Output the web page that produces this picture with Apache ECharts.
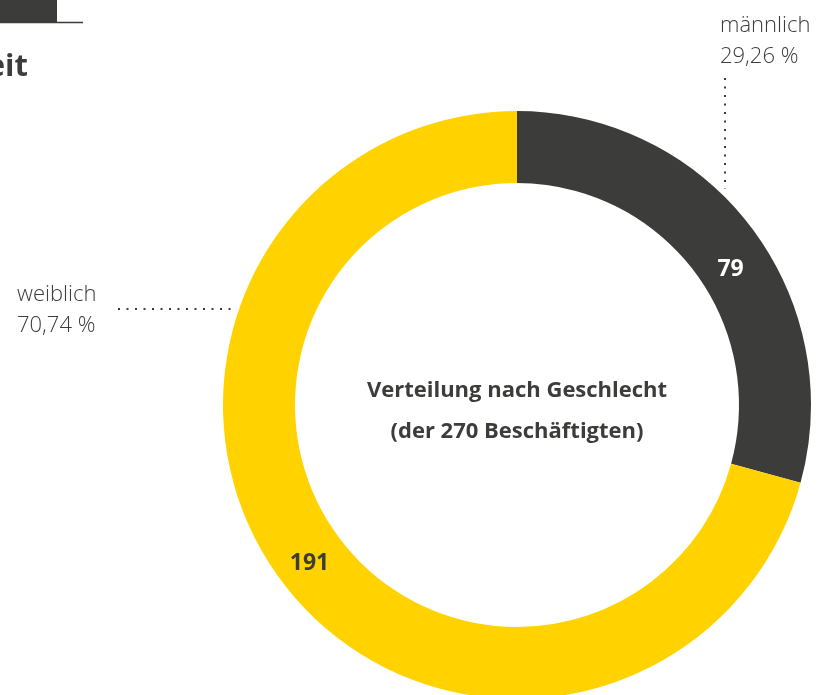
<!DOCTYPE html>
<html>
<head>
<meta charset="utf-8">
<script src="https://cdn.jsdelivr.net/npm/echarts@6/dist/echarts.min.js"></script>
<style>
html,body{margin:0;padding:0;background:#fff;}
#chart{width:824px;height:695px;}
</style>
</head>
<body>
<div id="chart"></div>
<script>
var categories = ['männlich', 'weiblich'];
var values = [79, 191];
var centerLines = ['Verteilung nach Geschlecht', '(der 270 Beschäftigten)'];
var headingFragment = 'eit';

var DARK = '#3c3c3b';
var YELLOW = '#ffd200';
var FONT = '"Open Sans", Lato, sans-serif';

var pieData = categories.map(function (c, i) {
  return { name: c, value: values[i], itemStyle: { color: i === 0 ? DARK : YELLOW }, label: { color: i === 0 ? '#ffffff' : DARK } };
});

var chart = echarts.init(document.getElementById('chart'), null, { renderer: 'canvas' });

var insideShift = [[6, 23], [0, 0]];
var outerLayout = [
  { x: 720, y: 10, line: [[725, 78], [725, 134], [725, 189]] },
  { x: 17, y: 279, line: [[118, 309], [175, 309], [232, 309]] }
];

chart.setOption({
  animation: false,
  backgroundColor: '#ffffff',
  graphic: [
    { type: 'rect', shape: { x: 0, y: 0, width: 57, height: 22 }, style: { fill: DARK } },
    { type: 'line', shape: { x1: 0, y1: 22.5, x2: 83, y2: 22.5 }, style: { stroke: DARK, lineWidth: 1.5 } },
    { type: 'text', x: 28, y: 67, style: { text: headingFragment, align: 'right', verticalAlign: 'middle', textAlign: 'right', textVerticalAlign: 'middle', fontSize: 31, fontWeight: 'bold', fontFamily: FONT, fill: DARK } },
    { type: 'text', x: 517, y: 411, style: { text: centerLines.join('\n'), align: 'center', verticalAlign: 'middle', textAlign: 'center', textVerticalAlign: 'middle', fontSize: 22, fontWeight: 'bold', lineHeight: 41, fontFamily: FONT, fill: DARK } }
  ],
  series: [
    {
      type: 'pie',
      center: [517, 405],
      radius: [222, 294],
      startAngle: 90,
      clockwise: true,
      silent: true,
      emphasis: { disabled: true },
      data: pieData,
      label: {
        show: true,
        position: 'inside',
        formatter: '{c}',
        fontFamily: FONT,
        fontWeight: 'bold',
        fontSize: 23
      },
      labelLayout: function (p) {
        var s = insideShift[p.dataIndex];
        return { dx: s[0], dy: s[1] };
      }
    },
    {
      type: 'pie',
      center: [517, 405],
      radius: [222, 294],
      startAngle: 90,
      clockwise: true,
      silent: true,
      percentPrecision: 2,
      emphasis: { disabled: true },
      itemStyle: { color: 'rgba(0,0,0,0)' },
      data: categories.map(function (c, i) { return { name: c, value: values[i] }; }),
      label: {
        show: true,
        position: 'outside',
        overflow: 'none',
        edgeDistance: 0,
        formatter: function (p) { return p.name + '\n' + p.percent.toFixed(2).replace('.', ',') + ' %'; },
        fontFamily: FONT,
        fontWeight: 300,
        fontSize: 22,
        lineHeight: 31,
        color: DARK,
        align: 'left'
      },
      labelLine: {
        show: true,
        lineStyle: { color: DARK, width: 2, type: [2, 6.5] }
      },
      labelLayout: function (p) {
        var o = outerLayout[p.dataIndex];
        return { x: o.x, y: o.y, align: 'left', verticalAlign: 'top', labelLinePoints: o.line };
      }
    }
  ]
});
</script>
</body>
</html>
